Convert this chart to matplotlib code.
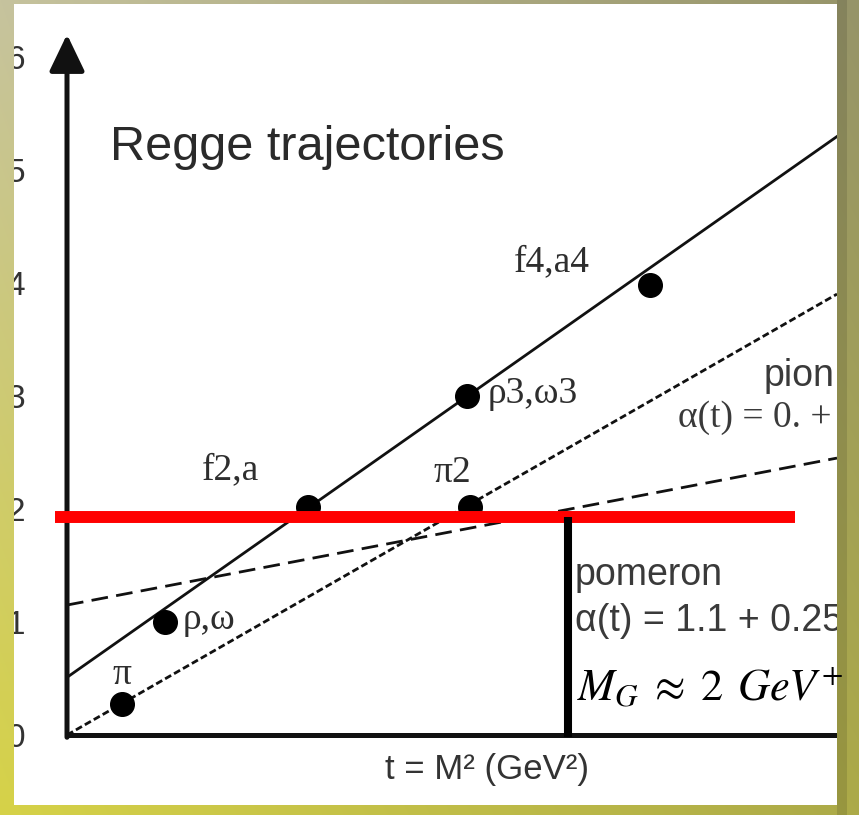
import numpy as np
import matplotlib
matplotlib.use("Agg")
import matplotlib.pyplot as plt

W, H = 859, 815

# chart values (t in GeV^2, alpha = spin)
traj_names = ["f/rho", "pion", "pomeron"]
traj_intercepts = [0.51, 0.0, 1.15]
traj_slopes = [0.92, 0.75, 0.25]
traj_styles = ["-", (0, (2.5, 1.2)), (0, (6, 3))]

meson_labels = ["\u03c0", "\u03c1,\u03c9", "f2,a", "\u03c13,\u03c93", "f4,a4", "\u03c02"]
meson_t = [0.37, 0.66, 1.63, 2.70, 3.94, 2.72]
meson_alpha = [0.27, 1.00, 2.02, 3.00, 3.98, 2.02]
# label offsets in pixels (dx, dy) and alignment
label_offsets = [(0, 30, "center"), (18, 2, "left"), (-49, 37, "right"),
                 (21, 2, "left"), (-60, 23, "right"), (2, 34, "right")]

ytick_vals = [0, 1, 2, 3, 4, 5, 6]
glueball_alpha = 1.93
glueball_t = 3.385
red_span = (-0.08, 4.92)

XMAX, YMAX = 770 / 148, 731 / 113

plt.rcParams["mathtext.fontset"] = "stix"

fig = plt.figure(figsize=(W / 100, H / 100), dpi=100, facecolor="white")


def px(x, y):
    return x / W, 1 - y / H


ax = fig.add_axes([67 / W, (H - 735) / H, 770 / W, 731 / H], zorder=1)
ax.set_xlim(0, XMAX)
ax.set_ylim(0, YMAX)
ax.patch.set_alpha(0)
for s in ["top", "right", "left"]:
    ax.spines[s].set_visible(False)
ax.spines["bottom"].set_linewidth(3.6)
ax.spines["bottom"].set_color("#111111")
ax.set_xticks([])
ax.set_yticks(ytick_vals)
ax.set_yticklabels([str(v) for v in ytick_vals], family="Liberation Sans",
                   fontsize=24, color="#333333")
ax.tick_params(axis="y", length=0, pad=30)

# y axis with arrow
ax.annotate("", xy=(0, 6.2), xytext=(0, -0.02),
            arrowprops=dict(arrowstyle="-|>,head_length=0.75,head_width=0.36",
                            lw=3.6, color="#111111", mutation_scale=30,
                            shrinkA=0, shrinkB=0),
            annotation_clip=False)

for b, m, ls in zip(traj_intercepts, traj_slopes, traj_styles):
    ax.axline((0, b), slope=m, color="#111111", lw=2.0, linestyle=ls)

ax.plot(meson_t, meson_alpha, "o", color="black", markersize=17, zorder=3)
for lab, t, a, (dx, dy, ha) in zip(meson_labels, meson_t, meson_alpha, label_offsets):
    ax.annotate(lab, (t, a), xytext=(dx, dy), textcoords="offset pixels",
                ha=ha, va="center", family="Liberation Serif", fontsize=27,
                color="#2e2e2e")

ax.text(*px(110, 148), "Regge trajectories", transform=fig.transFigure,
        family="Liberation Sans", fontsize=35, color="#2a2a2a", va="center")
ax.text(*px(764, 376), "pion", transform=fig.transFigure,
        family="Liberation Sans", fontsize=27, color="#3a3a3a", va="center")
ax.text(*px(678, 418), "\u03b1(t) = 0. +", transform=fig.transFigure,
        family="Liberation Serif", fontsize=27, color="#3a3a3a", va="center")
ax.text(*px(575, 575), "pomeron", transform=fig.transFigure,
        family="Liberation Sans", fontsize=27, color="#3a3a3a", va="center")
ax.text(*px(575, 621), "\u03b1(t) = 1.1 + 0.25", transform=fig.transFigure,
        family="Liberation Sans", fontsize=27, color="#3a3a3a", va="center")

ax.set_xlabel("t = M\u00b2 (GeV\u00b2)", family="Liberation Sans", fontsize=25,
              color="#333333")
ax.xaxis.set_label_coords((487 - 67) / 770, -(753 - 735) / 731)
ax.xaxis.label.set_va("top")

# overlaid glueball marker lines
ax.plot(red_span, [glueball_alpha, glueball_alpha], color="#ff0000", lw=8.6,
        solid_capstyle="butt", clip_on=False, zorder=4)
ax.plot([glueball_t, glueball_t], [-0.02, glueball_alpha], color="black", lw=5.8,
        solid_capstyle="butt", clip_on=False, zorder=4)

# frame around the white panel
yy, xx = np.mgrid[0:H, 0:W]
u = xx / (W - 1)
v = yy / (H - 1)
tl = np.array([198, 195, 158])
tr = np.array([150, 148, 105])
bl = np.array([214, 210, 72])
br = np.array([172, 170, 72])
rgb = ((1 - u)[..., None] * (1 - v)[..., None] * tl + u[..., None] * (1 - v)[..., None] * tr
       + (1 - u)[..., None] * v[..., None] * bl + u[..., None] * v[..., None] * br)
band = (xx >= 837) & (xx < 847)
rgb[band] *= 0.88
alpha = np.ones((H, W))
alpha[(xx >= 14) & (xx < 837) & (yy >= 4) & (yy < 805)] = 0
img = np.dstack([rgb / 255, alpha])
fax = fig.add_axes([0, 0, 1, 1], zorder=2)
fax.imshow(img, aspect="auto", interpolation="nearest")
fax.axis("off")

fig.text(*px(577, 700), r"$M_G\;\approx\;2\;\,GeV^{+}$", fontsize=32, va="baseline",
         color="black", zorder=5)

fig.savefig("out.png", dpi=100)
